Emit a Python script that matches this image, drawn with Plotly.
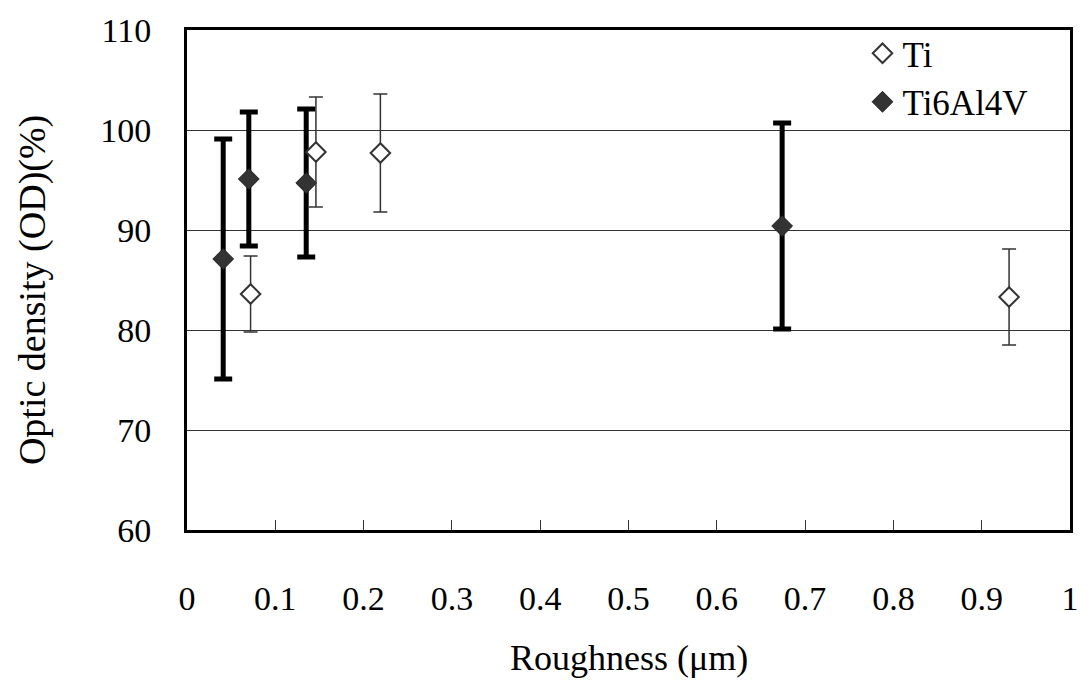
import plotly.graph_objects as go

# Data
ti_x = [0.072, 0.146, 0.219, 0.931]
ti_y = [83.6, 97.8, 97.7, 83.3]
ti_err = [3.8, 5.5, 5.9, 4.8]

tav_x = [0.041, 0.070, 0.135, 0.674]
tav_y = [87.1, 95.1, 94.7, 90.4]
tav_err = [12.0, 6.7, 7.4, 10.3]

x_ticks = [0, 0.1, 0.2, 0.3, 0.4, 0.5, 0.6, 0.7, 0.8, 0.9, 1]
x_ticklabels = ["0", "0.1", "0.2", "0.3", "0.4", "0.5", "0.6", "0.7", "0.8", "0.9", "1"]
y_ticks = [60, 70, 80, 90, 100, 110]

FONT = "'Times New Roman', 'Liberation Serif', 'DejaVu Serif', serif"

fig = go.Figure()

fig.add_trace(go.Scatter(
    x=tav_x, y=tav_y, mode="markers", name="Ti6Al4V", legendrank=2,
    marker=dict(symbol="diamond", size=16, color="#333333",
                line=dict(color="#222222", width=1)),
    error_y=dict(type="data", array=tav_err, visible=True,
                 color="black", thickness=5, width=9),
))

fig.add_trace(go.Scatter(
    x=ti_x, y=ti_y, mode="markers", name="Ti", legendrank=1,
    marker=dict(symbol="diamond", size=15, color="white",
                line=dict(color="#333333", width=2)),
    error_y=dict(type="data", array=ti_err, visible=True,
                 color="#333333", thickness=1.5, width=7),
))

fig.update_layout(
    width=1091, height=691,
    margin=dict(l=187, r=13, t=24, b=161),
    paper_bgcolor="white", plot_bgcolor="white",
    font=dict(family=FONT, size=34, color="black"),
    showlegend=True,
    legend=dict(x=0.765, y=1.012, xanchor="left", yanchor="top",
                bgcolor="rgba(0,0,0,0)", borderwidth=0,
                font=dict(family=FONT, size=35), itemwidth=30,
                tracegroupgap=0),
    xaxis=dict(range=[0, 1], tickvals=x_ticks, ticktext=x_ticklabels,
               showgrid=False, zeroline=False,
               showline=True, linecolor="black", linewidth=3, mirror=True,
               ticks="inside", ticklen=10, tickwidth=1, tickcolor="#333333",
               ticklabelstandoff=36,
               tickfont=dict(family=FONT, size=34)),
    yaxis=dict(range=[60, 110], tickvals=y_ticks,
               showgrid=True, gridcolor="#333333", gridwidth=1,
               zeroline=False,
               showline=True, linecolor="black", linewidth=3, mirror=True,
               ticks="inside", ticklen=12, tickwidth=1, tickcolor="#333333",
               ticklabelstandoff=26,
               tickfont=dict(family=FONT, size=34)),
    annotations=[
        dict(text="Roughness (\u03bcm)", xref="paper", yref="paper",
             x=0.5, y=(530 - 660) / 506, xanchor="center", yanchor="middle",
             showarrow=False, font=dict(family=FONT, size=36)),
        dict(text="Optic density (OD)(%)", xref="paper", yref="paper",
             x=(32 - 187) / 890, y=(530 - 287) / 506, xanchor="center", yanchor="middle",
             textangle=-90, showarrow=False, font=dict(family=FONT, size=38)),
    ],
)

fig.write_html("out.html")
